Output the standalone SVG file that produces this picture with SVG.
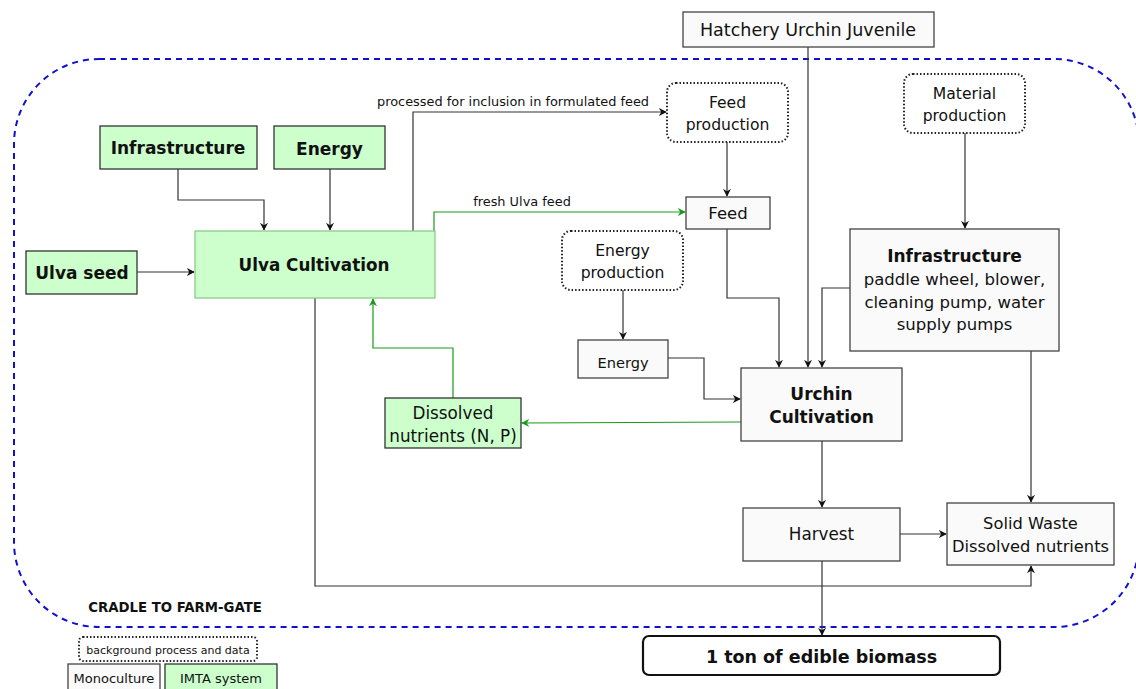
<svg xmlns="http://www.w3.org/2000/svg" width="1136" height="689" viewBox="0 0 1136 689">
<defs>
<marker id="ab" viewBox="0 0 10 10" refX="9" refY="5" markerWidth="8" markerHeight="8" markerUnits="userSpaceOnUse" orient="auto"><path d="M0,0 L10,5 L0,10 L3,5 Z" fill="#111"/></marker>
<marker id="ag" viewBox="0 0 10 10" refX="9" refY="5" markerWidth="8" markerHeight="8" markerUnits="userSpaceOnUse" orient="auto"><path d="M0,0 L10,5 L0,10 L3,5 Z" fill="#1a9a1a"/></marker>
</defs>
<style>
text{font-family:"DejaVu Sans",Verdana,sans-serif;fill:#111;text-anchor:middle}
.g{fill:#ccffcc;stroke:#333;stroke-width:1.3}
.gl{fill:#ccffcc;stroke:#8fc98f;stroke-width:1.3}
.w{fill:#fafafa;stroke:#444;stroke-width:1.3}
.d{fill:#fff;stroke:#222;stroke-width:2;stroke-dasharray:1.5 2}
.b{font-weight:bold}
.c{fill:none;stroke:#333;stroke-width:1.2}
.cg{fill:none;stroke:#1a9a1a;stroke-width:1.2}
</style>
<rect x="14" y="59" width="1125" height="568" rx="85" fill="none" stroke="#1010d0" stroke-width="2" stroke-dasharray="6 5"/>
<text x="175" y="612" class="b" font-size="13.3">CRADLE TO FARM-GATE</text>
<g id="connectors">
<path class="c" d="M178,169 V200 H264 V230" marker-end="url(#ab)"/>
<path class="c" d="M330,169 V230" marker-end="url(#ab)"/>
<path class="c" d="M137,272 H194" marker-end="url(#ab)"/>
<path class="c" d="M413,231 V112 H666" marker-end="url(#ab)"/>
<path class="cg" d="M434,231 V212 H685" marker-end="url(#ag)"/>
<path class="c" d="M727,142 V196" marker-end="url(#ab)"/>
<path class="c" d="M727,229 V298 H779 V367" marker-end="url(#ab)"/>
<path class="c" d="M808,47 V367" marker-end="url(#ab)"/>
<path class="c" d="M850,288 H822 V367" marker-end="url(#ab)"/>
<path class="c" d="M965,133 V228" marker-end="url(#ab)"/>
<path class="c" d="M623,290 V339" marker-end="url(#ab)"/>
<path class="c" d="M668,358 H704 V399 H740" marker-end="url(#ab)"/>
<path class="cg" d="M741,422 L522,423" marker-end="url(#ag)"/>
<path class="cg" d="M453,398 V348 H373 V299" marker-end="url(#ag)"/>
<path class="c" d="M822,441 V507" marker-end="url(#ab)"/>
<path class="c" d="M900,534 H946" marker-end="url(#ab)"/>
<path class="c" d="M822,561 V635" marker-end="url(#ab)"/>
<path class="c" d="M1031,351 V502" marker-end="url(#ab)"/>
<path class="c" d="M315,298 V586 H1031 V566" marker-end="url(#ab)"/>
<text x="513" y="106" font-size="12.9">processed for inclusion in formulated feed</text>
<text x="522" y="206" font-size="12.9">fresh Ulva feed</text>
</g>
<g id="hatchery"><rect class="w" x="683" y="12" width="251" height="35"/><text x="808" y="36" font-size="17.5">Hatchery Urchin Juvenile</text></g>
<g id="infra-ulva"><rect class="g" x="100" y="126" width="157" height="43"/><text x="178" y="154" class="b" font-size="17">Infrastructure</text></g>
<g id="energy-ulva"><rect class="g" x="274" y="126" width="111" height="43"/><text x="329.5" y="155" class="b" font-size="17">Energy</text></g>
<g id="ulva-seed"><rect class="g" x="26" y="251" width="111" height="43"/><text x="82" y="279" class="b" font-size="17">Ulva seed</text></g>
<g id="ulva-cult"><rect class="gl" x="195" y="231" width="240" height="67"/><text x="314" y="271" class="b" font-size="16.8">Ulva Cultivation</text></g>
<g id="feed-prod"><rect class="d" x="667" y="83" width="121" height="59" rx="9"/><text x="727.5" y="108" font-size="15.6">Feed</text><text x="727.5" y="130" font-size="15.6">production</text></g>
<g id="feed"><rect class="w" x="686" y="197" width="84" height="32"/><text x="728" y="219" font-size="16.5">Feed</text></g>
<g id="mat-prod"><rect class="d" x="904" y="74" width="121" height="59" rx="9"/><text x="964.5" y="99" font-size="15.6">Material</text><text x="964.5" y="121" font-size="15.6">production</text></g>
<g id="energy-prod"><rect class="d" x="562" y="231" width="121" height="59" rx="9"/><text x="622.5" y="256" font-size="15.6">Energy</text><text x="622.5" y="278" font-size="15.6">production</text></g>
<g id="infra-urchin"><rect class="w" x="850" y="229" width="209" height="122"/><text x="954.5" y="262" class="b" font-size="17">Infrastructure</text><text x="954.5" y="285" font-size="16.5">paddle wheel, blower,</text><text x="954.5" y="308" font-size="16.5">cleaning pump, water</text><text x="954.5" y="330" font-size="16.5">supply pumps</text></g>
<g id="energy-urchin"><rect class="w" x="578" y="340" width="90" height="38"/><text x="623" y="368" font-size="14.6">Energy</text></g>
<g id="urchin-cult"><rect class="w" x="741" y="368" width="161" height="73"/><text x="821.5" y="400" class="b" font-size="17">Urchin</text><text x="821.5" y="423" class="b" font-size="17">Cultivation</text></g>
<g id="dissolved"><rect class="g" x="385" y="398" width="136" height="50"/><text x="453" y="419" font-size="16.8">Dissolved</text><text x="453" y="442" font-size="16.8">nutrients (N, P)</text></g>
<g id="harvest"><rect class="w" x="743" y="508" width="157" height="53"/><text x="821.5" y="540" font-size="16.8">Harvest</text></g>
<g id="solid-waste"><rect class="w" x="947" y="503" width="167" height="62"/><text x="1030.5" y="529" font-size="16.3">Solid Waste</text><text x="1030.5" y="552" font-size="16.3">Dissolved nutrients</text></g>
<g id="biomass"><rect x="643" y="636" width="357" height="39" rx="6" fill="#fff" stroke="#111" stroke-width="2.2"/><text x="821.5" y="663" class="b" font-size="17.5">1 ton of edible biomass</text></g>
<g id="legend-bg"><rect class="d" x="79" y="637" width="178" height="24" rx="4"/><text x="168" y="654" font-size="11">background process and data</text></g>
<g id="legend-mono"><rect class="w" x="68" y="664" width="92" height="26"/><text x="114" y="683" font-size="13">Monoculture</text></g>
<g id="legend-imta"><rect class="g" x="165" y="664" width="112" height="26"/><text x="221" y="683" font-size="13">IMTA system</text></g>
</svg>
